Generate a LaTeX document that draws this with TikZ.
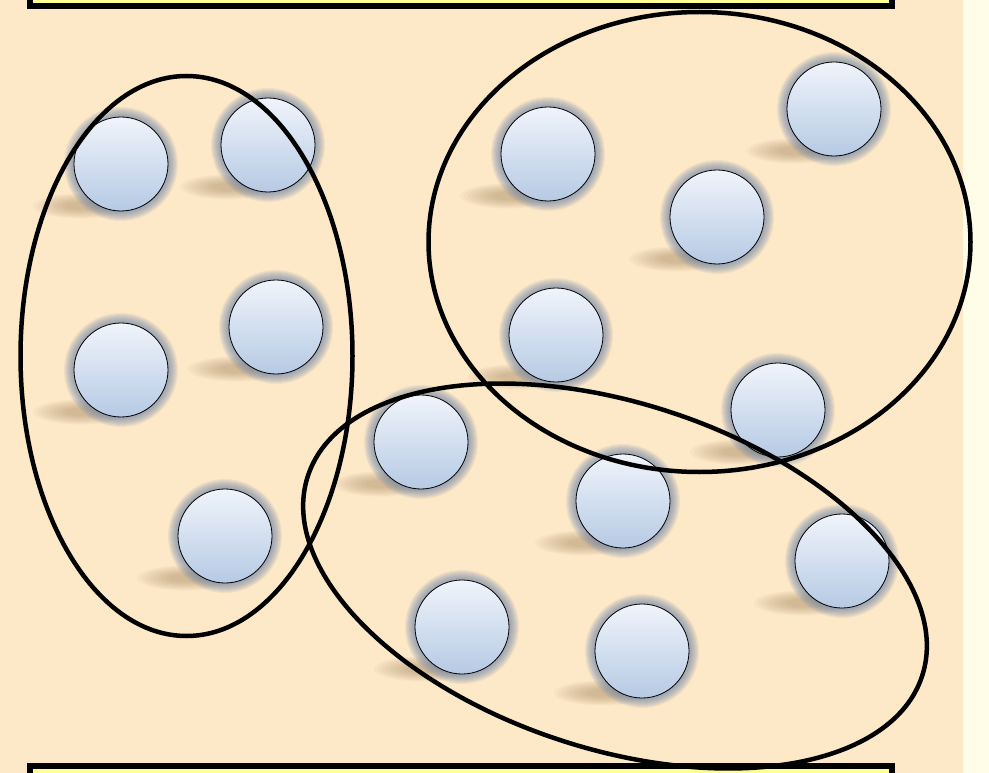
\documentclass[tikz,border=0pt]{standalone}
\definecolor{bgc}{RGB}{253,232,200}
\definecolor{creamc}{RGB}{255,253,232}
\definecolor{barc}{RGB}{255,255,150}
\definecolor{balltop}{RGB}{240,244,251}
\definecolor{ballbot}{RGB}{182,202,228}
\definecolor{glowc}{RGB}{105,130,168}
\definecolor{shadc}{RGB}{150,120,80}
\begin{document}
\begin{tikzpicture}[x=1pt,y=-1pt,
  ballnode/.style={circle,minimum size=94pt,inner sep=0pt,draw=black,line width=0.8pt,top color=balltop,bottom color=ballbot},
  groupline/.style={draw=black,line width=4.5pt},
  barbox/.style={fill=barc,draw=black,line width=6pt},
  glowlayer/.style={fill=glowc,fill opacity=0.09},
  shadlayer/.style={fill=shadc,fill opacity=0.05}]
\useasboundingbox (0,0) rectangle (989,773);
\clip (0,0) rectangle (989,773);
\fill[bgc] (0,0) rectangle (963,773);
\fill[creamc] (963,0) rectangle (989,773);
\draw[barbox] (30,-40) rectangle (892,6);
\draw[barbox] (30,766) rectangle (892,820);
\def\balllist{b1/121/164,b2/268/145,b3/121/370,b4/276/327,b5/225/536,b6/548/154,b7/834/109,b8/717/217,b9/556/335,b10/778/410,b11/421/442,b12/623/501,b13/842/561,b14/462/627,b15/642/651}
\foreach \n/\x/\y in \balllist {
  \foreach \r in {16,20,...,50} {
    \fill[shadlayer] (\x-40,\y+42) ellipse [x radius=\r pt,y radius=0.26*\r pt];
  }
}
\foreach \n/\x/\y in \balllist {
  \foreach \r in {48,49,...,57} {
    \fill[glowlayer] (\x,\y) circle [radius=\r pt];
  }
}
\foreach \n/\x/\y in \balllist {
  \node[ballnode] (\n) at (\x,\y) {};
}
\draw[groupline] (186.5,356) ellipse [x radius=166pt,y radius=280pt];
\draw[groupline] (699.5,242) ellipse [x radius=271pt,y radius=230pt];
\draw[groupline] (615,576) ellipse [x radius=323pt,y radius=173pt,rotate=-18];
\end{tikzpicture}
\end{document}
